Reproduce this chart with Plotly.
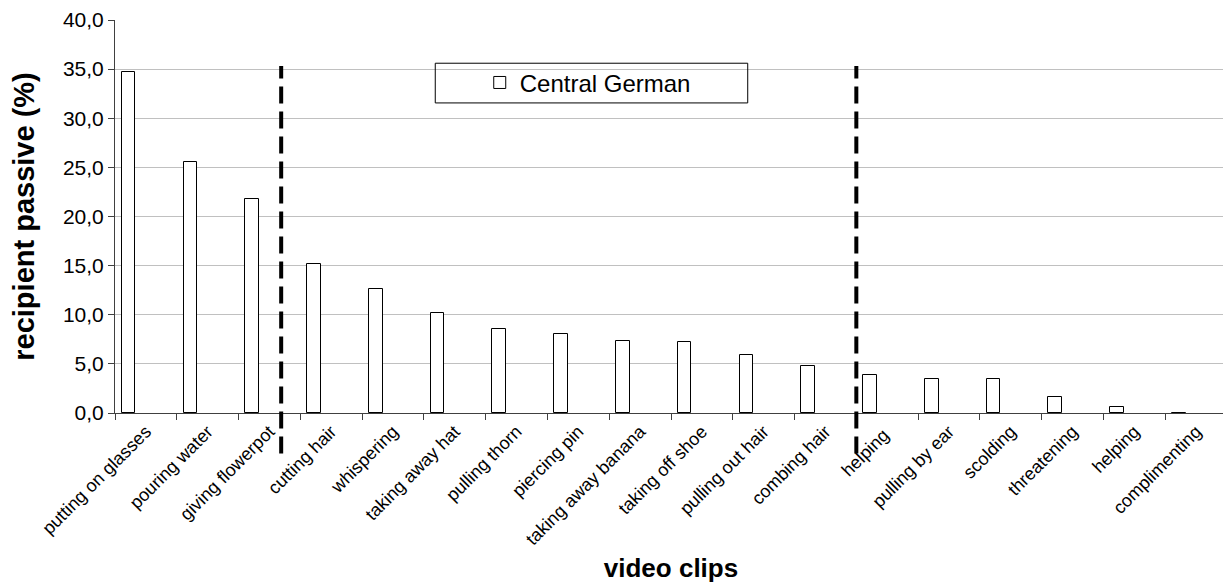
import plotly.graph_objects as go

categories = ["putting on glasses", "pouring water", "giving flowerpot", "cutting hair",
              "whispering", "taking away hat", "pulling thorn", "piercing pin",
              "taking away banana", "taking off shoe", "pulling out hair", "combing hair",
              "helping ", "pulling by ear", "scolding", "threatening", "helping", "complimenting"]
values = [34.7, 25.5, 21.8, 15.2, 12.6, 10.2, 8.5, 8.0, 7.3, 7.2, 5.9, 4.8,
          3.9, 3.5, 3.5, 1.6, 0.6, 0.0]
series_name = "Central German"
y_ticks = [0, 5, 10, 15, 20, 25, 30, 35, 40]
divider_positions = [2.19, 11.5]

fig = go.Figure()
fig.add_trace(go.Bar(
    x=categories, y=values, name=series_name,
    marker=dict(color="white", line=dict(color="black", width=1)),
    width=0.22, offset=-0.39, showlegend=True,
))

for xp in divider_positions:
    fig.add_shape(type="line", xref="x", yref="paper", x0=xp, x1=xp, y0=-0.103, y1=0.883,
                  line=dict(color="black", width=4, dash="17px,8px"), layer="above")

# legend box
fig.add_shape(type="rect", xref="paper", yref="paper", x0=0.288, x1=0.569, y0=0.789, y1=0.890,
              line=dict(color="black", width=1), fillcolor="rgba(0,0,0,0)", layer="above")

fig.update_layout(
    width=1223, height=575,
    margin=dict(l=107, r=4, t=12, b=170),
    paper_bgcolor="white", plot_bgcolor="white",
    separators=",.",
    font=dict(family="Arial, Liberation Sans, sans-serif", size=18, color="black"),
    bargap=0,
    showlegend=True,
    legend=dict(x=0.328, y=0.840, xanchor="left", yanchor="middle",
                font=dict(size=24), bgcolor="rgba(0,0,0,0)", borderwidth=0),
    xaxis=dict(
        type="category", tickson="boundaries", ticks="outside", ticklen=6,
        tickcolor="#404040", showline=True, linecolor="#404040", linewidth=1,
        tickangle=-45, showgrid=False, range=[-0.5, 17.5], automargin=False,
        title=dict(text="<b>video clips</b>", font=dict(size=26), standoff=10),
        tickfont=dict(size=18),
    ),
    yaxis=dict(
        range=[0, 40], tickvals=y_ticks, tickformat=".1f", ticks="outside", ticklen=6,
        tickcolor="#404040", showline=True, linecolor="#404040", linewidth=1,
        showgrid=True, gridcolor="#c0c0c0", gridwidth=1, zeroline=False, automargin=False,
        title=dict(text="<b>recipient passive (%)</b>", font=dict(size=29), standoff=20),
        tickfont=dict(size=21),
    ),
)

fig.write_html("out.html")
